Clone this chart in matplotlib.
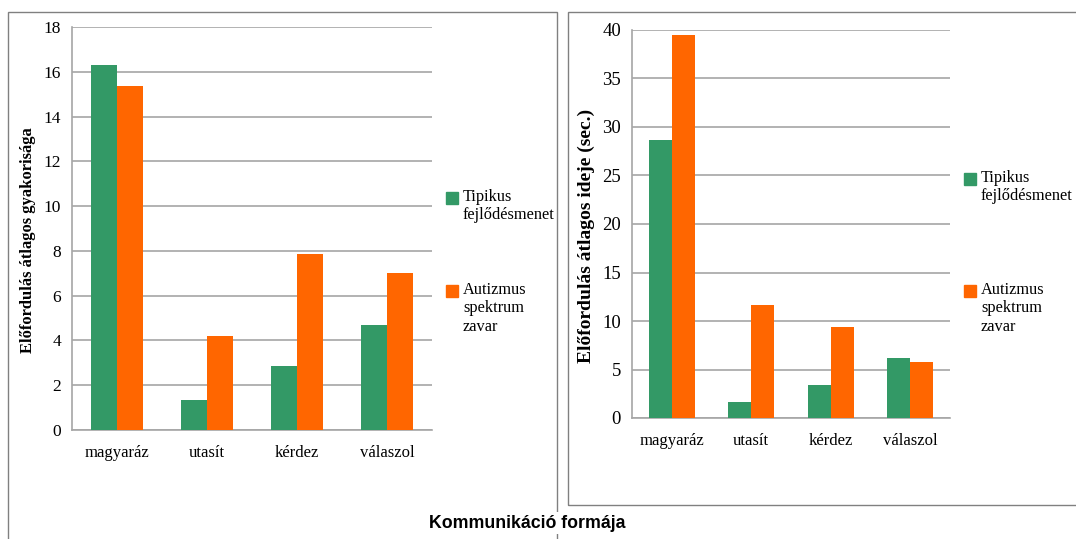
import matplotlib.pyplot as plt
from matplotlib.patches import Rectangle
import numpy as np

categories = ["magyaráz", "utasít", "kérdez", "válaszol"]
series_names = ["Tipikus\nfejlődésmenet", "Autizmus\nspektrum\nzavar"]

# bal grafikon: előfordulás átlagos gyakorisága
freq_typical = [16.3, 1.35, 2.85, 4.7]
freq_asd = [15.35, 4.2, 7.85, 7.0]

# jobb grafikon: előfordulás átlagos ideje (sec.)
time_typical = [28.7, 1.7, 3.4, 6.2]
time_asd = [39.5, 11.7, 9.4, 5.8]

GREEN = "#339966"
ORANGE = "#FF6600"
GRID = "#A6A6A6"

W, H = 1076, 539


def px_axes(fig, x0, y0, x1, y1):
    # pixel coordinates from the top-left corner
    return fig.add_axes([x0 / W, 1 - y1 / H, (x1 - x0) / W, (y1 - y0) / H])


def draw_panel(ax, a, b, ymax, ystep, ylabel, ytick_size, ylabel_size):
    x = np.arange(len(categories))
    w = 0.29
    ax.bar(x - w / 2, a, w, color=GREEN, zorder=3)
    ax.bar(x + w / 2, b, w, color=ORANGE, zorder=3)
    ax.set_xlim(-0.5, len(categories) - 0.5)
    ax.set_ylim(0, ymax)
    ax.set_yticks(np.arange(0, ymax + 0.1, ystep))
    ax.set_xticks(x)
    ax.set_xticklabels(categories)
    ax.yaxis.grid(True, color=GRID, linewidth=1.2, zorder=0)
    for s in ["top", "right"]:
        ax.spines[s].set_visible(False)
    for s in ["left", "bottom"]:
        ax.spines[s].set_color(GRID)
        ax.spines[s].set_linewidth(1.2)
    ax.tick_params(length=0)
    ax.tick_params(axis="y", labelsize=ytick_size, pad=8)
    ax.tick_params(axis="x", labelsize=12, pad=11)
    for t in ax.get_xticklabels() + ax.get_yticklabels():
        t.set_fontfamily("Liberation Serif")
    ax.set_ylabel(ylabel, fontfamily="Liberation Serif", fontweight="bold",
                  fontsize=ylabel_size)


fig = plt.figure(figsize=(W / 100, H / 100), dpi=100)

# keretek
fig.patches.append(Rectangle((8 / W, -0.1), (557 - 8) / W, 1.1 - 12 / H,
                             transform=fig.transFigure, fill=False,
                             edgecolor="#808080", linewidth=1))
fig.patches.append(Rectangle((568 / W, 1 - 505 / H), 0.5, (505 - 12) / H,
                             transform=fig.transFigure, fill=False,
                             edgecolor="#808080", linewidth=1))

ax1 = px_axes(fig, 72, 27, 432, 430)
draw_panel(ax1, freq_typical, freq_asd, 18, 2,
           "Előfordulás átlagos gyakorisága", 12.5, 12)
ax1.yaxis.set_label_coords(-0.1, 0.47)

ax2 = px_axes(fig, 632, 30, 950, 418)
draw_panel(ax2, time_typical, time_asd, 40, 5,
           "Előfordulás átlagos ideje (sec.)", 13.5, 14)
ax2.yaxis.set_label_coords(-0.115, 0.47)


# jelmagyarázatok
def legend(sq_x, ys):
    for (y, name, col) in zip(ys, series_names, [GREEN, ORANGE]):
        fig.patches.append(Rectangle((sq_x / W, 1 - (y + 6) / H), 12 / W, 12 / H,
                                     transform=fig.transFigure, color=col))
        fig.text((sq_x + 17) / W, 1 - (y - 9) / H, name, va="top", ha="left",
                 fontfamily="Liberation Serif", fontsize=11.8, linespacing=1.2)


legend(446, [198, 291])
legend(964, [179, 291])

fig.text(527 / W, 1 - 523 / H, "Kommunikáció formája", ha="center", va="center",
         fontfamily="Liberation Sans", fontweight="bold", fontsize=12.8,
         bbox=dict(facecolor="white", edgecolor="none", pad=2))

fig.savefig("out.png", dpi=100)
